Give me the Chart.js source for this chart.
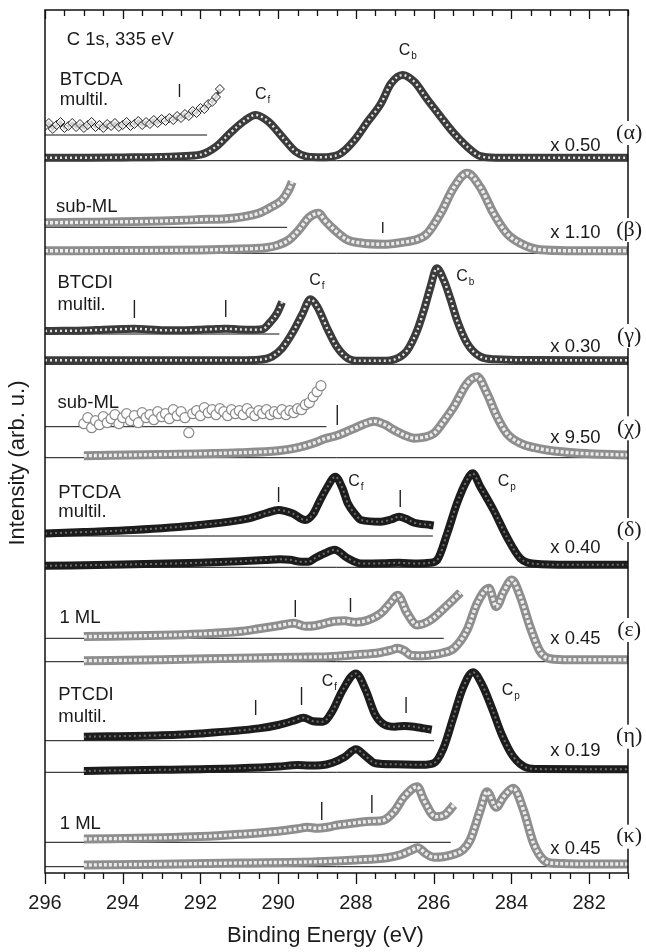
<!DOCTYPE html>
<html>
<head>
<meta charset="utf-8">
<script src="https://cdn.jsdelivr.net/npm/chart.js@4/dist/chart.umd.min.js"></script>
<style>
  html, body { margin: 0; padding: 0; background: #fff; }
</style>
</head>
<body>
<canvas id="chart" width="646" height="952"></canvas>
<script>
// each spectrum: [binding energy (eV), intensity above its own zero line]
const alphaMain = [[296,3],[295,3],[294,3.3],[293,3.8],[292.5,4.5],[292,6],[291.6,14],[291.2,29],[290.85,40.5],[290.58,45.7],[290.25,39],[289.9,24],[289.55,9],[289.3,4.5],[289,3.5],[288.7,3.8],[288.4,7],[288.05,20],[287.7,39],[287.36,57],[287.1,77],[286.8,85.7],[286.5,79],[286.16,61],[285.82,44],[285.48,27.5],[285.14,14],[284.8,4.5],[284.4,3],[283,3],[281,3]];
const alphaUp = [[296,9],[295.9,12],[295.8,6],[295.7,10],[295.6,13],[295.5,7],[295.4,9],[295.3,12],[295.2,8],[295.1,11],[295,7],[294.9,10],[294.8,13],[294.7,8],[294.6,10],[294.5,7],[294.4,11],[294.3,9],[294.2,12],[294.1,8],[294,10],[293.9,13],[293.8,9],[293.7,11],[293.6,14],[293.5,10],[293.4,13],[293.3,11],[293.2,15],[293.1,12],[293,16],[292.9,14],[292.8,17],[292.7,15],[292.6,19],[292.5,17],[292.4,21],[292.3,19],[292.2,24],[292.1,22],[292,27],[291.9,26],[291.8,31],[291.7,33],[291.6,38],[291.5,46]];
const betaMain = [[296,2.5],[294,2.7],[292,3.3],[291,4.2],[290.5,5],[290.33,5.5],[290,8.3],[289.73,13.3],[289.47,23.3],[289.2,36],[288.96,40],[288.81,33.3],[288.55,23.3],[288.21,13.3],[287.9,10.5],[287.3,9],[286.8,11],[286.42,14],[286.16,20],[285.82,40],[285.48,66],[285.14,80],[284.8,66],[284.46,40],[284.12,20],[283.77,10],[283.26,3.5],[282.5,2.6],[281,2.5]];
const betaUp = [[296,4.5],[295,5],[294,5.5],[293,6.3],[292,7.7],[291.18,9],[290.5,14],[290.16,20.6],[289.9,27.3],[289.73,37.3],[289.64,45.6]];
const gammaMain = [[296,4],[291,4],[290.5,4.5],[290.16,7.7],[289.9,16],[289.64,31],[289.39,49.3],[289.17,65],[289,58],[288.72,34.3],[288.5,18],[288.21,6],[287.9,3.5],[287.3,3.5],[287,5],[286.68,14],[286.42,34.3],[286.25,54.3],[286.08,77.6],[285.92,96],[285.74,84.3],[285.56,64.3],[285.4,44.3],[285.14,21],[284.8,7.7],[284.4,5],[283.5,4.2],[281,4]];
const gammaUp = [[296,3],[295.5,3.2],[295,3.5],[294.5,4.3],[294,5],[293.7,5.3],[293.3,4.5],[293,3.8],[292.5,3.8],[292,4.3],[291.6,5],[291.35,5.3],[291,4.6],[290.6,4.3],[290.41,4.7],[290.2,12],[290.03,20.7],[289.9,32]];
const chiMain = [[295,2],[293,3.2],[291,5],[290,7],[289.5,10],[289.06,15],[288.8,19],[288.55,21.5],[288.3,25],[288.04,29.4],[287.8,33.5],[287.53,36.5],[287.25,33],[287.02,27.7],[286.75,22.5],[286.5,19.5],[286.25,20.5],[285.99,24.4],[285.75,36],[285.48,51],[285.14,74.4],[284.88,81],[284.63,64.4],[284.37,41],[284.12,24.4],[283.77,14.4],[283.4,10],[283.09,7.7],[282.24,4.4],[281,2.7]];
const chiUp = [[295,3],[294.9,9],[294.8,-1],[294.7,6],[294.6,2],[294.5,10],[294.4,4],[294.3,8],[294.2,12],[294.1,3],[294,9],[293.9,13],[293.8,6],[293.7,11],[293.6,4],[293.5,14],[293.4,9],[293.3,12],[293.2,7],[293.1,15],[293,10],[292.9,13],[292.8,8],[292.7,17],[292.6,11],[292.5,15],[292.4,9],[292.3,-6],[292.2,13],[292.1,16],[292,11],[291.9,19],[291.8,14],[291.7,17],[291.6,12],[291.5,18],[291.4,15],[291.3,11],[291.2,17],[291.1,13],[291,16],[290.9,12],[290.8,18],[290.7,14],[290.6,11],[290.5,16],[290.4,13],[290.3,17],[290.2,12],[290.1,15],[290,13],[289.9,17],[289.8,12],[289.7,16],[289.6,14],[289.5,18],[289.4,17],[289.3,22],[289.2,24],[289.1,30],[289,35],[288.9,41]];
const deltaMain = [[296,1.5],[294,2.7],[292.03,4.5],[291,6],[290.33,7.3],[289.95,8],[289.7,7.5],[289.4,5.5],[289.22,5.5],[289.06,9],[288.8,14],[288.55,17.5],[288.21,9],[287.87,3.8],[287.3,4],[286.9,4.5],[286.4,3.8],[286.1,4.5],[285.91,7.3],[285.65,34],[285.4,64],[285.14,87.3],[285,94],[284.8,80.6],[284.46,57.3],[284.12,30.6],[283.77,9],[283.4,3.5],[282.5,2.5],[281,2.5]];
const deltaUp = [[296,2.5],[295,4],[293.74,6],[292.03,11],[290.75,17.7],[290.3,23],[289.99,26],[289.64,22.7],[289.3,16],[289.1,22],[288.96,32.7],[288.75,48],[288.53,59.3],[288.35,48],[288.21,32.7],[288,21],[287.87,16],[287.36,14.3],[287.1,16.5],[286.89,19.3],[286.7,17],[286.5,13.3],[286.08,11],[286,10.5]];
const epsMain = [[295,1],[293,2],[291,3.5],[289.47,4.5],[288.71,5],[288,7],[287.4,9],[287.1,11.5],[286.93,13.4],[286.75,11],[286.59,6.5],[286.3,6],[286.08,6.7],[285.75,9],[285.48,13.4],[285.14,31.7],[284.88,58.4],[284.58,73.4],[284.39,55],[284.2,70],[283.99,81.7],[283.77,65],[283.52,35],[283.26,10],[283,3],[282.5,2],[281,2]];
const epsUp = [[295,1.7],[293,3],[292,4.3],[291,6.7],[290.5,9.5],[290,12.5],[289.6,15],[289.3,12],[289.06,12.5],[288.8,15],[288.55,17],[288.3,17.5],[288,16],[287.7,18],[287.36,25],[287.1,36],[286.93,43],[286.68,25],[286.42,13.3],[286.08,18.3],[285.65,33],[285.31,45.7]];
const etaMain = [[295,1.3],[293,2.5],[291,4],[290,5.7],[289.5,7.3],[289.2,6.8],[288.9,7],[288.6,9.5],[288.3,15],[288,23],[287.75,16],[287.5,9],[287,8],[286.3,7.5],[286,9],[285.75,24],[285.5,54],[285.25,84],[284.99,100],[284.75,87.3],[284.5,64],[284.25,38],[283.95,15.6],[283.6,4.5],[283.3,3.2],[282,3],[281,3]];
const etaUp = [[295,4],[293,5.5],[292,7.3],[290.5,12.3],[290,15.7],[289.6,20],[289.35,23],[289.1,19.5],[288.85,19],[288.6,30],[288.35,50],[288,67.3],[287.75,50.7],[287.5,25.7],[287.25,15.7],[287,14],[286.75,14.7],[286.5,14],[286.25,12.3],[286.05,11]];
const kappaMain = [[295,1.7],[293,2.5],[291,3.7],[289,5],[288,6.7],[287.2,9],[286.85,12],[286.6,16],[286.41,19],[286.2,13],[286,9.5],[285.75,10],[285.48,12.5],[285.25,16.7],[285.06,26.7],[284.8,56.7],[284.63,75],[284.39,59.4],[284.2,70],[283.95,78.4],[283.69,56.7],[283.43,23.3],[283.17,6.7],[282.9,3.4],[282,2.7],[281,2.7]];
const kappaUp = [[295,3.3],[293,4.5],[292,5.7],[291,8],[290,11],[289.5,13.5],[289.25,15],[289,14],[288.75,15],[288.5,17],[288.2,18.5],[287.9,20],[287.6,21],[287.3,22],[287.02,30.6],[286.75,46],[286.42,55.6],[286.25,42],[285.95,25.6],[285.73,27],[285.48,37.3]];

// vertical offsets of the zero lines, and where the short (zoomed) zero lines stop
const mainOff = [712.3, 619.7, 508.7, 415.3, 305.7, 211.3, 100.7, 6.3];
const upOff = [738, 645.7, 539, 446.3, 337, 234.7, 132.3, 30.7];
const shortEnd = [291.83, 289.77, 289.97, 288.76, 286.02, 285.74, 285.99, 285.56];

const panelNames = ['(α)', '(β)', '(γ)', '(χ)', '(δ)', '(ε)', '(η)', '(κ)'];
const factors = ['x 0.50', 'x 1.10', 'x 0.30', 'x 9.50', 'x 0.40', 'x 0.45', 'x 0.19', 'x 0.45'];
const xMajor = [296, 294, 292, 290, 288, 286, 284, 282];

// [energy, low, high] of the little vertical marks
const tickMarks = [
  [292.54, 776, 789],
  [287.31, 640, 651],
  [293.70, 555, 573], [291.35, 556, 573],
  [288.48, 448, 468],
  [289.99, 371, 386], [286.86, 366, 383],
  [289.56, 256, 273], [288.14, 261, 275],
  [290.58, 158, 173], [289.40, 168, 186], [286.71, 160, 176],
  [288.88, 53, 71], [287.59, 60, 78]
];

// text: [text, energy, level]
const sampleLabels = [
  ['C 1s, 335 eV', 295.44, 828],
  ['BTCDA', 295.62, 788], ['multil.', 295.62, 768.5],
  ['sub-ML', 295.72, 661],
  ['BTCDI', 295.68, 585], ['multil.', 295.68, 563],
  ['sub-ML', 295.68, 465],
  ['PTCDA', 295.66, 375], ['multil.', 295.66, 356],
  ['1 ML', 295.63, 250.5],
  ['PTCDI', 295.66, 173], ['multil.', 295.66, 151],
  ['1 ML', 295.62, 44]
];
const peakLabels = [
  ['f', 290.6, 774], ['b', 286.9, 818],
  ['f', 289.2, 588], ['b', 285.42, 592],
  ['f', 288.2, 387], ['p', 284.35, 387],
  ['f', 288.88, 187], ['p', 284.25, 178]
];
const factorLevel = [722, 635, 521, 430, 319.7, 229, 117, 19];
const nameLevel = [740, 643, 537, 444.7, 343, 243, 136.3, 36.3];

const mainSets = [alphaMain, betaMain, gammaMain, chiMain, deltaMain, epsMain, etaMain, kappaMain];
const upSets = [alphaUp, betaUp, gammaUp, chiUp, deltaUp, epsUp, etaUp, kappaUp];

const SANS = "'Liberation Sans', Arial, sans-serif";
const SERIF = "'Liberation Serif', 'Times New Roman', serif";
const INK = '#1b1b1b';

const looks = {
  dia:  { outer: '#3b3b3b', w: 8, inner: '#e2e2e2', iw: 2.4, dash: [2, 3] },
  dark: { outer: '#1c1c1c', w: 8, inner: '#6e6e6e', iw: 2, dash: [2, 3] },
  circ: { outer: '#8e8e8e', w: 9, inner: '#ececec', iw: 3.4, dash: [3, 2] }
};
const panelLook = ['dia', 'circ', 'dia', 'circ', 'dark', 'circ', 'dark', 'circ'];

const datasets = [];
const pts = (arr, off) => arr.map(p => ({ x: p[0], y: off + p[1] }));

function band(data, st) {
  datasets.push({ data, borderColor: st.outer, borderWidth: st.w, borderJoinStyle: 'round', order: 2, clip: 0 });
  datasets.push({ data, borderColor: st.inner, borderWidth: st.iw, borderDash: st.dash, order: 1, clip: 0 });
}

mainSets.forEach((set, k) => {
  const st = looks[panelLook[k]];
  // zero lines
  datasets.push({ data: [{ x: 296, y: mainOff[k] }, { x: 281, y: mainOff[k] }], borderColor: '#111', borderWidth: 1, order: 3 });
  datasets.push({ data: [{ x: 296, y: upOff[k] }, { x: shortEnd[k], y: upOff[k] }], borderColor: '#111', borderWidth: 1, order: 3 });
  band(pts(set, mainOff[k]), st);
  const up = pts(upSets[k], upOff[k]);
  if (k === 3) {
    // noisy sub-ML trace: open circles only
    datasets.push({ data: up, showLine: false, pointRadius: 5, pointStyle: 'circle', pointBackgroundColor: '#fff',
      pointBorderColor: '#8a8a8a', pointBorderWidth: 1.2, order: 1, clip: 0 });
  } else if (k === 0) {
    // noisy multilayer trace: open diamonds over a dark core
    datasets.push({ data: up, borderColor: '#4a4a4a', borderWidth: 3, cubicInterpolationMode: 'default', tension: 0, order: 2, clip: 0 });
    datasets.push({ data: up, showLine: false, pointRadius: 4.5, pointStyle: 'rectRot', pointBackgroundColor: 'rgba(255,255,255,0.75)',
      pointBorderColor: '#222', pointBorderWidth: 1, order: 1, clip: 0 });
  } else {
    band(up, st);
  }
});

tickMarks.forEach(m => {
  datasets.push({ data: [{ x: m[0], y: m[1] }, { x: m[0], y: m[2] }], borderColor: '#222', borderWidth: 1.4, order: 0 });
});

const deco = {
  id: 'deco',
  afterDraw(chart) {
    const { ctx, chartArea: a, scales: { x, y } } = chart;
    ctx.save();
    ctx.strokeStyle = '#111';
    ctx.lineWidth = 1.5;
    ctx.strokeRect(a.left, a.top, a.right - a.left, a.bottom - a.top);
    ctx.lineWidth = 1.3;
    x.ticks.forEach(t => {
      const px = Math.round(x.getPixelForValue(t.value)) + 0.5;
      const major = xMajor.includes(t.value);
      ctx.beginPath();
      ctx.moveTo(px, a.bottom); ctx.lineTo(px, a.bottom + (major ? 11 : 6));
      ctx.moveTo(px, a.top); ctx.lineTo(px, a.top + (major ? 9 : 6));
      ctx.stroke();
    });

    ctx.fillStyle = INK;
    ctx.textBaseline = 'alphabetic';
    ctx.textAlign = 'left';
    ctx.font = '18.5px ' + SANS;
    sampleLabels.forEach(l => ctx.fillText(l[0], x.getPixelForValue(l[1]), y.getPixelForValue(l[2])));
    factors.forEach((f, k) => ctx.fillText(f, x.getPixelForValue(283.0), y.getPixelForValue(factorLevel[k])));

    peakLabels.forEach(l => {
      const px = x.getPixelForValue(l[1]), py = y.getPixelForValue(l[2]);
      ctx.font = '16px ' + SANS;
      ctx.fillText('C', px, py);
      const w = ctx.measureText('C').width;
      ctx.font = '10px ' + SANS;
      ctx.fillText(l[0], px + w + 1, py + 4);
    });

    ctx.font = '22px ' + SERIF;
    ctx.textAlign = 'center';
    ctx.textBaseline = 'middle';
    panelNames.forEach((n, k) => {
      const px = x.getPixelForValue(280.97), py = y.getPixelForValue(nameLevel[k]);
      const w = ctx.measureText(n).width;
      ctx.fillStyle = '#fff';
      ctx.fillRect(px - w / 2 - 1, py - 12, w + 2, 24);
      ctx.fillStyle = INK;
      ctx.fillText(n, px, py);
    });

    ctx.font = '22px ' + SANS;
    ctx.fillText('Binding Energy (eV)', 325.5, 936);
    ctx.translate(18, 463);
    ctx.rotate(-Math.PI / 2);
    ctx.fillText('Intensity (arb. u.)', 0, 0);
    ctx.restore();
  }
};

new Chart(document.getElementById('chart'), {
  type: 'line',
  data: { datasets },
  options: {
    responsive: false,
    animation: false,
    devicePixelRatio: 1,
    layout: { padding: { top: 10, right: 15, left: 0, bottom: 0 } },
    plugins: { legend: { display: false }, tooltip: { enabled: false } },
    elements: {
      point: { radius: 0 },
      line: { cubicInterpolationMode: 'monotone', fill: false }
    },
    scales: {
      x: {
        type: 'linear', reverse: true, min: 281, max: 296,
        grid: { display: false, drawTicks: false },
        border: { display: false },
        ticks: {
          stepSize: 0.5, autoSkip: false, maxRotation: 0, padding: 18, color: INK,
          font: { family: SANS, size: 20 },
          callback: v => xMajor.includes(v) ? String(v) : ''
        },
        afterFit: s => { s.height = 79; }
      },
      y: {
        min: 0, max: 863,
        grid: { display: false, drawTicks: false },
        border: { display: false },
        ticks: { display: false },
        afterFit: s => { s.width = 45; }
      }
    }
  },
  plugins: [deco]
});
</script>
</body>
</html>
